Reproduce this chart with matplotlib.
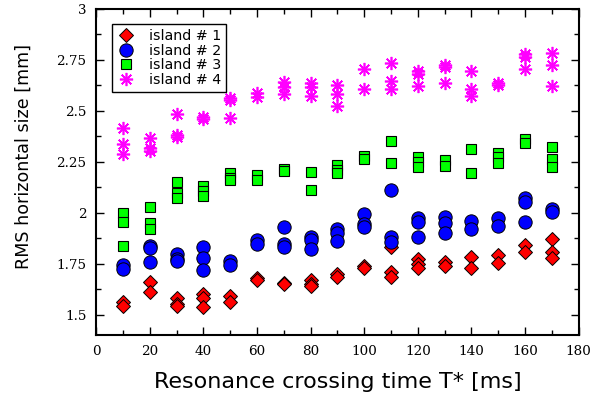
import matplotlib
matplotlib.use("Agg")
import matplotlib.pyplot as plt
from matplotlib.ticker import MultipleLocator, FuncFormatter

# ---- data ----
x1 = [10, 10, 20, 20, 30, 30, 30, 40, 40, 40, 50, 50, 60, 60, 70, 70, 80, 80, 80,
      90, 90, 100, 100, 110, 110, 110, 120, 120, 120, 130, 130, 140, 140, 150, 150,
      160, 160, 170, 170, 170]
y1 = [1.561, 1.543, 1.662, 1.610, 1.582, 1.553, 1.543, 1.601, 1.580, 1.539, 1.592, 1.561,
      1.678, 1.670, 1.654, 1.650, 1.670, 1.649, 1.642, 1.698, 1.686, 1.739, 1.727,
      1.833, 1.711, 1.686, 1.772, 1.749, 1.727, 1.760, 1.740, 1.781, 1.730, 1.793, 1.752,
      1.842, 1.809, 1.871, 1.809, 1.777]

x2 = [10, 10, 20, 20, 20, 30, 30, 30, 40, 40, 40, 50, 50, 60, 60, 70, 70, 70, 80, 80, 80,
      90, 90, 90, 100, 100, 100, 110, 110, 110, 120, 120, 120, 130, 130, 130, 140, 140,
      150, 150, 160, 160, 160, 170, 170]
y2 = [1.744, 1.725, 1.837, 1.828, 1.760, 1.798, 1.772, 1.765, 1.830, 1.779, 1.721,
      1.765, 1.744, 1.866, 1.845, 1.930, 1.848, 1.830, 1.882, 1.865, 1.821,
      1.922, 1.899, 1.860, 1.992, 1.945, 1.931, 2.111, 1.882, 1.858, 1.973, 1.953, 1.879,
      1.980, 1.951, 1.902, 1.961, 1.920, 1.973, 1.935, 2.071, 2.051, 1.953, 2.017, 2.005]

x3 = [10, 10, 10, 20, 20, 20, 30, 30, 30, 40, 40, 40, 50, 50, 50, 60, 60, 70, 70, 80, 80,
      90, 90, 90, 100, 100, 110, 110, 120, 120, 120, 130, 130, 140, 140, 150, 150, 150,
      160, 160, 170, 170, 170]
y3 = [1.997, 1.953, 1.838, 2.029, 1.948, 1.922, 2.152, 2.095, 2.071, 2.132, 2.106, 2.082,
      2.193, 2.170, 2.160, 2.185, 2.160, 2.213, 2.205, 2.201, 2.111,
      2.234, 2.210, 2.193, 2.278, 2.262, 2.351, 2.242, 2.275, 2.250, 2.225, 2.258, 2.230,
      2.312, 2.193, 2.291, 2.275, 2.242, 2.359, 2.343, 2.324, 2.262, 2.223]

x4 = [10, 10, 10, 20, 20, 20, 30, 30, 30, 40, 40, 50, 50, 50, 60, 60, 70, 70, 70, 80, 80, 80,
      90, 90, 90, 100, 100, 110, 110, 110, 120, 120, 120, 130, 130, 130, 140, 140, 140,
      150, 150, 160, 160, 160, 170, 170, 170]
y4 = [2.414, 2.335, 2.288, 2.365, 2.316, 2.304, 2.482, 2.381, 2.373, 2.471, 2.458,
      2.561, 2.552, 2.463, 2.585, 2.569, 2.642, 2.615, 2.582, 2.634, 2.618, 2.572,
      2.626, 2.580, 2.523, 2.703, 2.605, 2.735, 2.646, 2.605, 2.695, 2.680, 2.623,
      2.724, 2.713, 2.634, 2.695, 2.605, 2.572, 2.634, 2.626, 2.776, 2.765, 2.703,
      2.784, 2.723, 2.623]

labels = ["island # 1", "island # 2", "island # 3", "island # 4"]
xlabel = "Resonance crossing time T* [ms]"
ylabel = "RMS horizontal size [mm]"

# ---- figure ----
fig = plt.figure(figsize=(6.11, 4.01), dpi=100)
ax = fig.add_axes([0.1576, 0.1646, 0.7895, 0.8137])

ax.plot(x1, y1, linestyle="none", marker="D", ms=7.2, mfc="#ff0000", mec="black",
        mew=0.7, label=labels[0])
ax.plot(x2, y2, linestyle="none", marker="o", ms=9.6, mfc="#0000ff", mec="black",
        mew=0.7, label=labels[1])
ax.plot(x3, y3, linestyle="none", marker="s", ms=7.8, mfc="#00ff00", mec="black",
        mew=0.8, label=labels[2])
ax.plot(x4, y4, linestyle="none", marker=(8, 2, 0), ms=9.5, color="#ff00ff",
        mew=1.2, label=labels[3])

ax.set_xlim(0, 180)
ax.set_ylim(1.4, 3.0)
ax.xaxis.set_major_locator(MultipleLocator(20))
ax.xaxis.set_minor_locator(MultipleLocator(10))
ax.yaxis.set_major_locator(MultipleLocator(0.25))
ax.yaxis.set_minor_locator(MultipleLocator(0.125))
ax.yaxis.set_major_formatter(FuncFormatter(lambda v, p: ("%g" % v)))

for s in ax.spines.values():
    s.set_linewidth(1.5)

ax.tick_params(which="both", direction="in", top=True, right=True, width=1.0,
               labelsize=9.7, pad=7)
ax.tick_params(which="major", length=6)
ax.tick_params(which="minor", length=3.3)
for t in ax.get_xticklabels() + ax.get_yticklabels():
    t.set_fontfamily("DejaVu Serif")

ax.set_xlabel(xlabel, fontsize=16, family="DejaVu Sans", labelpad=10)
ax.set_ylabel(ylabel, fontsize=12.6, family="DejaVu Sans")
ax.yaxis.set_label_coords(-0.131, 0.5465)

leg = ax.legend(loc="upper left", bbox_to_anchor=(0.0325, 0.953), borderaxespad=0,
                prop={"family": "DejaVu Sans", "size": 10.3}, frameon=True,
                fancybox=False, edgecolor="black", framealpha=1,
                handlelength=1.33, handletextpad=0.88, borderpad=0.35,
                labelspacing=0.05, numpoints=1)
leg.get_frame().set_linewidth(1.0)

fig.savefig("out.png", dpi=100)
